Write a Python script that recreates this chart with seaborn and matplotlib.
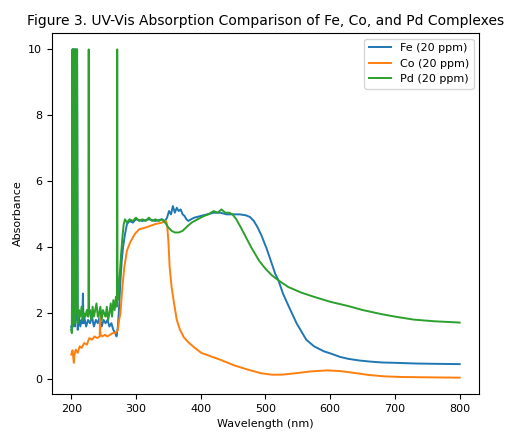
import matplotlib
matplotlib.use("Agg")
import matplotlib.pyplot as plt
import seaborn as sns
import pandas as pd

# ---- data ----
fe_wl = [200, 201, 202, 202.5, 203, 204, 205, 206, 207, 208, 209, 210, 212, 214, 216, 217, 218, 219,
         220, 223, 226, 229, 232, 235, 238, 241, 244, 247, 250, 253, 256, 259, 262, 265, 268, 270,
         272, 274, 276, 278, 280, 283, 286, 290, 295, 300, 310, 320, 330, 340, 345, 348, 351, 354,
         357, 360, 363, 366, 369, 372, 375, 378, 381, 385, 390, 400, 410, 420, 430, 440, 450, 460,
         470, 476, 482, 488, 494, 502, 509, 515, 520, 527, 535, 548, 563, 575, 590, 601, 615, 628, 645,
         660, 680, 700, 730, 760, 800]
fe_abs = [1.6, 1.5, 10, 1.7, 10, 2.0, 10, 1.6, 10, 1.8, 10, 1.5, 1.9, 1.6, 1.8, 1.7, 2.6, 1.7,
          1.9, 1.6, 1.8, 1.7, 1.9, 1.6, 1.8, 1.7, 1.9, 1.6, 1.8, 1.7, 1.8, 1.6, 1.7, 1.5, 1.4, 1.3,
          1.6, 2.2, 3.0, 3.6, 4.0, 4.4, 4.7, 4.8, 4.75, 4.85, 4.8, 4.85, 4.8, 4.85, 4.8, 4.9, 5.1, 5.0,
          5.25, 5.05, 5.2, 5.1, 5.15, 5.0, 4.95, 4.85, 4.8, 4.85, 4.9, 4.95, 5.0, 5.05, 5.05, 5.0, 5.0, 5.0,
          4.97, 4.92, 4.8, 4.6, 4.35, 3.95, 3.55, 3.2, 3.0, 2.6, 2.25, 1.7, 1.2, 1.0, 0.85, 0.78, 0.68, 0.62, 0.57,
          0.54, 0.51, 0.5, 0.48, 0.47, 0.46]

co_wl = [200, 202, 204, 205, 207, 210, 213, 216, 220, 224, 228, 232, 236, 240, 244, 244.5, 245, 248,
         252, 256, 260, 264, 268, 272, 274, 276, 279, 282, 286, 291, 298, 305, 315, 329, 340, 346,
         348, 350, 352, 355, 358, 363, 368, 374, 381, 391, 401, 415, 432, 452, 475, 494, 510, 525,
         545, 570, 595, 615, 635, 660, 683, 710, 750, 800]
co_abs = [0.75, 0.88, 0.5, 0.75, 0.9, 0.8, 1.0, 0.95, 1.1, 1.05, 1.25, 1.2, 1.3, 1.25, 1.3, 2.0, 1.35, 1.3,
          1.35, 1.3, 1.35, 1.4, 1.4, 1.5, 1.8, 2.0, 2.8, 3.4, 3.9, 4.15, 4.4, 4.55, 4.6, 4.7, 4.75, 4.8,
          4.7, 4.2, 3.4, 2.8, 2.4, 1.8, 1.5, 1.27, 1.12, 0.95, 0.8, 0.7, 0.58, 0.42, 0.28, 0.18, 0.14, 0.14,
          0.18, 0.24, 0.27, 0.25, 0.2, 0.13, 0.09, 0.07, 0.06, 0.05]

pd_wl = [200, 201, 202, 203, 203.5, 204.5, 205, 206, 207, 208, 209, 210, 212, 214, 216, 218, 220, 222,
         224, 226, 226.5, 227, 227.5, 229, 231, 233, 235, 237, 239, 241, 243, 245, 247, 249, 251, 253,
         255, 257, 259, 261, 263, 265, 267, 269, 270.5, 271, 271.5, 273, 275, 277, 279, 281, 283, 286,
         290, 295, 300, 305, 310, 315, 320, 325, 330, 335, 340, 345, 350, 355, 360, 366, 372, 380,
         386, 395, 405, 412, 420, 426, 432, 438, 444, 449, 455, 462, 470, 478, 490, 500, 510, 520, 535,
         555, 575, 600, 628, 650, 678, 700, 729, 760, 800]
pd_abs = [1.5, 1.4, 10, 1.6, 10, 1.9, 10, 1.7, 10, 2.0, 10, 1.7, 2.1, 1.9, 2.2, 1.8, 2.0, 1.9,
          2.1, 1.9, 1.9, 10, 2.0, 2.1, 1.8, 2.2, 1.9, 2.1, 2.3, 1.9, 2.0, 2.2, 1.8, 2.1, 2.0, 1.9,
          2.2, 1.8, 2.0, 2.3, 1.9, 2.4, 2.1, 2.5, 2.2, 10, 2.4, 2.6, 3.2, 3.8, 4.3, 4.7, 4.85, 4.75,
          4.85, 4.8, 4.9, 4.8, 4.85, 4.8, 4.9, 4.8, 4.85, 4.8, 4.85, 4.75, 4.6, 4.5, 4.45, 4.45, 4.5, 4.65,
          4.75, 4.85, 4.95, 5.0, 5.1, 5.05, 5.15, 5.05, 5.05, 5.0, 4.85, 4.6, 4.3, 4.0, 3.6, 3.35, 3.15, 3.0, 2.8,
          2.63, 2.5, 2.35, 2.22, 2.1, 1.98, 1.9, 1.81, 1.76, 1.72]

series_names = ["Fe (20 ppm)", "Co (20 ppm)", "Pd (20 ppm)"]
series_colors = ["#1f77b4", "#ff7f0e", "#2ca02c"]

frames = []
for name, wl, ab in zip(series_names, [fe_wl, co_wl, pd_wl], [fe_abs, co_abs, pd_abs]):
    frames.append(pd.DataFrame({"Wavelength": wl, "Absorbance": ab, "Sample": name}))
df = pd.concat(frames, ignore_index=True)

fig = plt.figure(figsize=(5.13, 4.34), dpi=100)
ax = fig.add_axes([0.101, 0.092, 0.833, 0.832])
sns.lineplot(data=df, x="Wavelength", y="Absorbance", hue="Sample",
             hue_order=series_names, palette=series_colors,
             estimator=None, sort=False, linewidth=1.4, ax=ax)

ax.set_xlabel("Wavelength (nm)", fontsize=8)
ax.set_ylabel("Absorbance", fontsize=8)
ax.set_title("Figure 3. UV-Vis Absorption Comparison of Fe, Co, and Pd Complexes", fontsize=10)
ax.tick_params(labelsize=8)
sns.move_legend(ax, "upper right", title=None, fontsize=8)

fig.savefig("out.png", dpi=100)
